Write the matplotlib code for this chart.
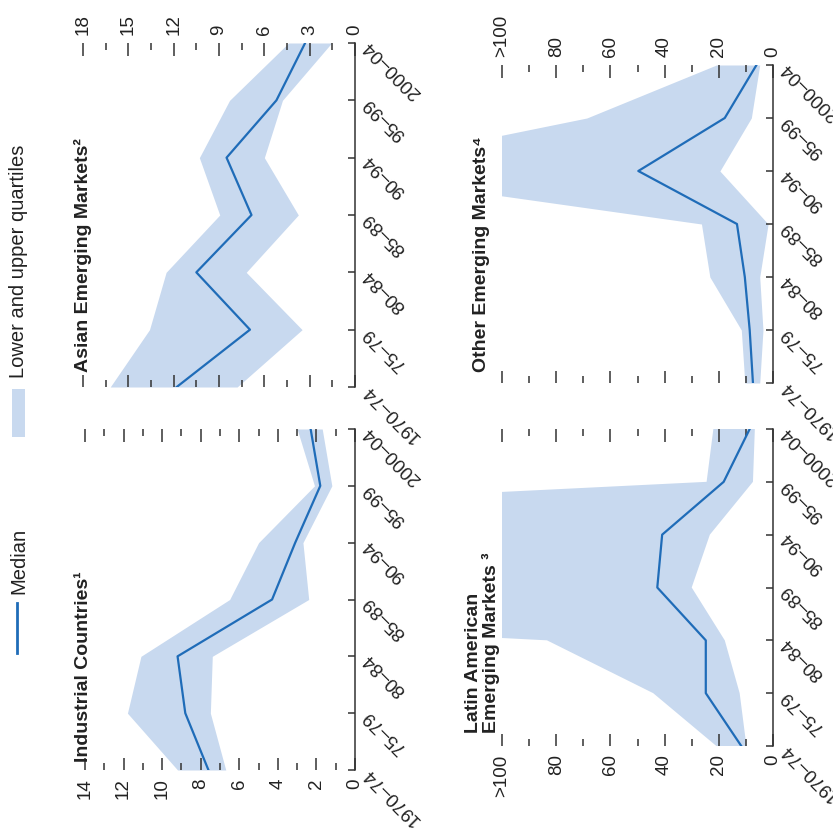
import matplotlib
matplotlib.use("Agg")
import matplotlib.pyplot as plt
from matplotlib.lines import Line2D
from matplotlib.patches import Rectangle
from matplotlib.ticker import MultipleLocator
from matplotlib import font_manager

# five-year periods on the time axis
periods = ["1970–74", "75–79", "80–84", "85–89", "90–94", "95–99", "2000–04"]

industrial_median = [7.6, 8.8, 9.2, 4.3, 3.1, 1.8, 2.3]
industrial_lower = [6.7, 7.5, 7.4, 2.4, 2.7, 1.2, 1.7]
industrial_upper = [9.2, 11.8, 11.1, 6.5, 5.0, 2.1, 3.0]

asian_median = [11.8, 6.95, 10.5, 6.85, 8.5, 5.2, 3.3]
asian_lower = [7.8, 3.5, 7.2, 3.75, 6.0, 4.8, 1.55]
asian_upper = [16.2, 13.6, 12.5, 8.95, 10.3, 8.3, 4.4]

# upper quartiles above 100 run off the clipped scale
latin_median = [11.7, 24.8, 24.8, 42.7, 40.9, 18.2, 8.6]
latin_lower = [9.8, 12.3, 17.8, 30.0, 23.3, 7.4, 6.7]
latin_upper = [20.9, 44.2, 83.4, 460.0, 420.0, 24.5, 22.0]

other_median = [7.4, 8.6, 10.4, 13.3, 49.7, 17.8, 6.1]
other_lower = [4.9, 3.7, 4.9, 1.8, 19.6, 8.0, 4.9]
other_upper = [10.4, 11.7, 23.3, 26.4, 165.0, 68.7, 20.9]

big_ticks = [0, 20, 40, 60, 80, 100]
big_labels = ["0", "20", "40", "60", "80", ">100"]

FILL = "#c8d9ef"
LINE = "#1f6cb8"
INK = "#222222"
W = 833.0

available = {f.name for f in font_manager.fontManager.ttflist}
family = [f for f in ["Liberation Sans", "DejaVu Sans"] if f in available]
plt.rcParams["font.family"] = family


def rect(left, right, top, bottom):
    # pixel box (image coords, y down) -> figure fraction
    return [left / W, 1 - bottom / W, (right - left) / W, (bottom - top) / W]


def px(x, y):
    return x / W, 1 - y / W


def panel(fig, box, median, lower, upper, vmax, major, minor, labels_top,
          ticks=None, ticklabels=None):
    ax = fig.add_axes(rect(*box))
    t = list(range(len(periods)))
    ax.fill_betweenx(t, lower, upper, color=FILL, lw=0)
    ax.plot(median, t, color=LINE, lw=1.6)
    ax.set_xlim(vmax, 0)
    ax.set_ylim(0, len(periods) - 1)

    for side in ["left", "top", "bottom"]:
        ax.spines[side].set_visible(False)
    ax.spines["right"].set_color("#333333")
    ax.spines["right"].set_linewidth(1.1)

    # time axis
    ax.yaxis.tick_right()
    ax.set_yticks(t)
    ax.set_yticklabels(periods, rotation=135, ha="right", va="center",
                       rotation_mode="anchor", fontsize=13.5, color=INK)
    ax.tick_params(axis="y", direction="in", length=5, width=1.1,
                   color="#333333", pad=8)

    # value axis
    if ticks is None:
        ax.xaxis.set_major_locator(MultipleLocator(major))
    else:
        ax.set_xticks(ticks)
        ax.set_xticklabels(ticklabels)
    ax.xaxis.set_minor_locator(MultipleLocator(minor))
    ax.tick_params(axis="x", which="both", direction="in", top=True,
                   bottom=True, labeltop=labels_top,
                   labelbottom=not labels_top, labelrotation=90,
                   labelsize=13.5, labelcolor=INK, color="#333333",
                   width=1.1, pad=6)
    ax.tick_params(axis="x", which="major", length=9)
    ax.tick_params(axis="x", which="minor", length=5)
    return ax


fig = plt.figure(figsize=(8.33, 8.33), dpi=100)

panel(fig, (85, 355, 429, 770), industrial_median, industrial_lower,
      industrial_upper, 14, 2, 1, False)
panel(fig, (83, 355, 43, 387), asian_median, asian_lower, asian_upper,
      18, 3, 1.5, True)
panel(fig, (502, 773, 429, 746), latin_median, latin_lower, latin_upper,
      100, 20, 10, False, big_ticks, big_labels)
panel(fig, (502, 773, 65, 383), other_median, other_lower, other_upper,
      100, 20, 10, True, big_ticks, big_labels)

title_kw = dict(rotation=90, rotation_mode="anchor", ha="left",
                fontsize=14, fontweight="bold", color=INK,
                family=family + ["DejaVu Sans"])
fig.text(*px(84, 762), "Industrial Countries¹", va="center", **title_kw)
fig.text(*px(83, 372), "Asian Emerging Markets²", va="center", **title_kw)
fig.text(*px(500, 733), "Latin American\nEmerging Markets ³", va="bottom",
         linespacing=1.0, **title_kw)
fig.text(*px(482, 372), "Other Emerging Markets⁴", va="center", **title_kw)

# legend, drawn by hand because it is rotated
fig.add_artist(Line2D([17 / W, 17 / W], [1 - 603 / W, 1 - 653 / W],
                      color=LINE, lw=2))
fig.text(*px(19, 594), "Median", rotation=90, rotation_mode="anchor",
         ha="left", va="center", fontsize=14.5, color=INK)
fig.add_artist(Rectangle(px(12, 437), 13 / W, 48 / W, color=FILL, lw=0))
fig.text(*px(19, 378), "Lower and upper quartiles", rotation=90,
         rotation_mode="anchor", ha="left", va="center", fontsize=14.5,
         color=INK)

fig.savefig("out.png", dpi=100)
